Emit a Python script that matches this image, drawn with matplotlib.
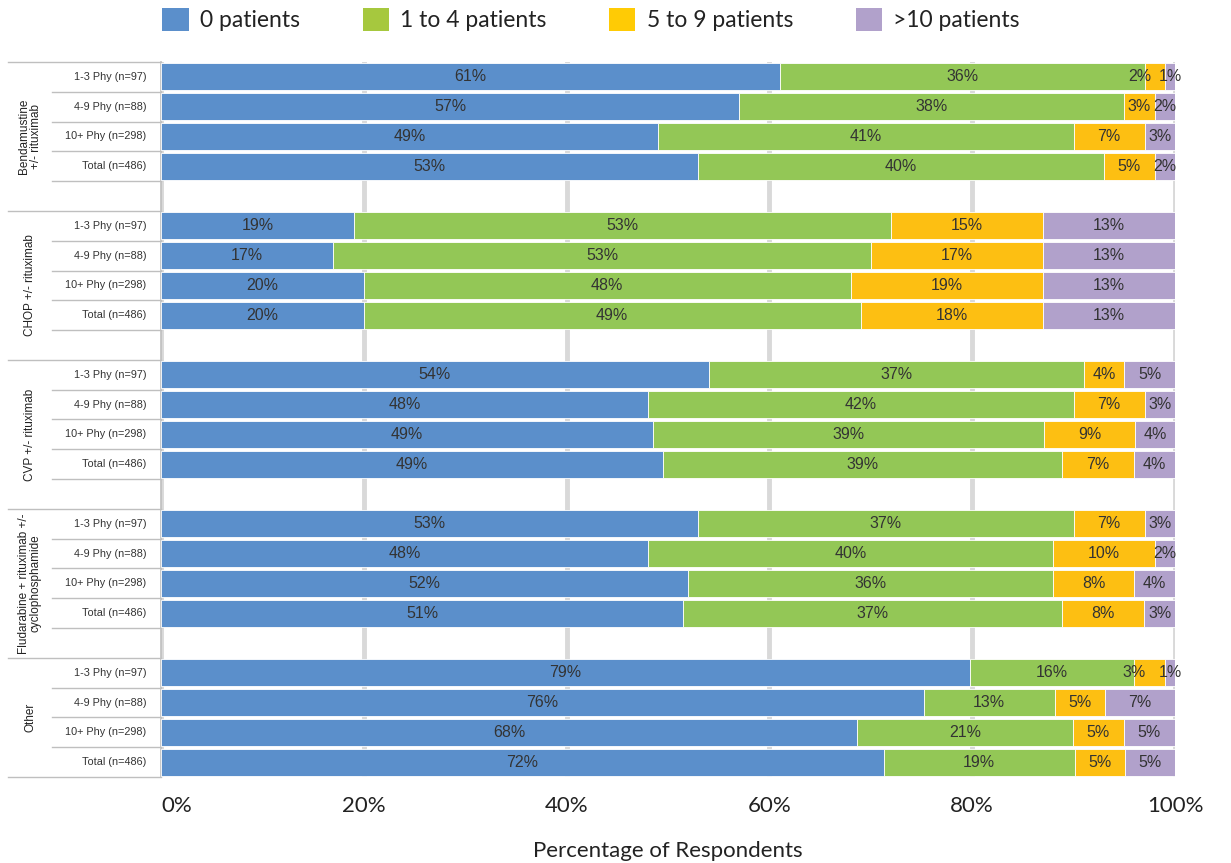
import matplotlib
matplotlib.use('Agg')
import matplotlib.pyplot as plt
import numpy as np
from matplotlib.transforms import blended_transform_factory
from matplotlib.patches import Patch

groups = ["Bendamustine\n+/- rituximab", "CHOP +/- rituximab", "CVP +/- rituximab",
          "Fludarabine + rituximab +/-\ncyclophosphamide", "Other"]
subgroups = ["1-3 Phy (n=97)", "4-9 Phy (n=88)", "10+ Phy (n=298)", "Total (n=486)"]
series_names = ["0 patients", "1 to 4 patients", "5 to 9 patients", ">10 patients"]
zero_pat = [61, 57, 49, 53, 19, 17, 20, 20, 54, 48, 49, 49, 53, 48, 52, 51, 79, 76, 68, 72]
one_to_four = [36, 38, 41, 40, 53, 53, 48, 49, 37, 42, 39, 39, 37, 40, 36, 37, 16, 13, 21, 19]
five_to_nine = [2, 3, 7, 5, 15, 17, 19, 18, 4, 7, 9, 7, 7, 10, 8, 8, 3, 5, 5, 5]
over_ten = [1, 2, 3, 2, 13, 13, 13, 13, 5, 3, 4, 4, 3, 2, 4, 3, 1, 7, 5, 5]
x_ticks = [0, 20, 40, 60, 80, 100]

bar_colors = ["#5B8FCB", "#93C756", "#FDBF12", "#B1A1CB"]
legend_colors = ["#5B8FCB", "#A6C83E", "#FFCB05", "#B1A1CB"]
title_font = dict(family='Lato')

W, H = 1231, 863
fig = plt.figure(figsize=(W / 100, H / 100), dpi=100)
ax = fig.add_axes([161 / W, 1 - 777 / H, (1175 - 161) / W, (777 - 62) / H])

data = np.array([zero_pat, one_to_four, five_to_nine, over_ten], dtype=float)
totals = data.sum(axis=0)
widths = data / totals * 100

ng, ns = len(groups), len(subgroups)
ypos = np.array([g * (ns + 1) + s for g in range(ng) for s in range(ns)])

left = np.zeros(len(ypos))
for k in range(4):
    bars = ax.barh(ypos, widths[k], left=left, height=0.9, color=bar_colors[k],
                   edgecolor='white', linewidth=0.6, zorder=3)
    anns = ax.bar_label(bars, labels=[f"{int(v)}%" for v in data[k]], label_type='center',
                        fontsize=11.5, color='#333333', family='Liberation Sans')
    if k == 2:
        # shift the label left when the following segment is very narrow
        for i, ann in enumerate(anns):
            if data[3][i] <= 1:
                ann.xyann = (-11, 0)
    left += widths[k]

ax.set_xlim(0, 100)
ax.set_ylim(ypos.max() + 0.5, -0.5)
ax.set_yticks([])
ax.set_xticks(x_ticks)
ax.set_xticklabels([f"{t}%" for t in x_ticks], fontsize=16, color='#222222', **title_font)
ax.tick_params(axis='x', length=0, pad=14)
ax.get_xticklabels()[0].set_horizontalalignment('left')
ax.xaxis.grid(True, color='#D9D9D9', linewidth=3.5, zorder=0)
ax.set_axisbelow(True)
for s in ['top', 'right', 'bottom']:
    ax.spines[s].set_visible(False)
ax.spines['left'].set_color('#BFBFBF')
ax.spines['left'].set_linewidth(1.2)
ax.set_xlabel("Percentage of Respondents", fontsize=16, color='#222222', labelpad=18, **title_font)

trans = blended_transform_factory(ax.transAxes, ax.transData)
x_row = (52 - 161) / 1014
x_grp = (8 - 161) / 1014
line_kw = dict(color='#BFBFBF', linewidth=1.0, transform=trans, clip_on=False)
ax.plot([x_grp, 0], [-0.5, -0.5], **line_kw)
for g in range(ng):
    base = g * (ns + 1)
    for s in range(ns):
        y = base + s
        ax.text(-0.0145, y, subgroups[s], transform=trans, ha='right', va='center',
                fontsize=7.8, family='Liberation Sans', color='#333333')
        if s < ns - 1:
            ax.plot([x_row, 0], [y + 0.5, y + 0.5], **line_kw)
    if g < ng - 1:
        ax.plot([x_row, 0], [base + ns - 0.5, base + ns - 0.5], **line_kw)
        ax.plot([x_grp, 0], [base + ns + 0.5, base + ns + 0.5], **line_kw)
        yc = base + ns / 2
    else:
        ax.plot([x_grp, 0], [base + ns - 0.5, base + ns - 0.5], **line_kw)
        yc = base + (ns - 1) / 2
    ax.text((30 - 161) / 1014, yc, groups[g], transform=trans, rotation=90, ha='center',
            va='center', fontsize=8.5, family='Liberation Sans', color='#222222',
            multialignment='center', linespacing=1.0)

handles = [Patch(facecolor=c, edgecolor='none') for c in legend_colors]
fig.legend(handles, series_names, loc='upper left', bbox_to_anchor=(151 / W, 1.004),
           ncol=4, frameon=False, prop={'family': 'Lato', 'size': 16.5},
           handlelength=1.15, handleheight=1.15, handletextpad=0.5, columnspacing=2.72,
           borderaxespad=0.1, labelcolor='#222222')

fig.savefig('out.png', dpi=100)
